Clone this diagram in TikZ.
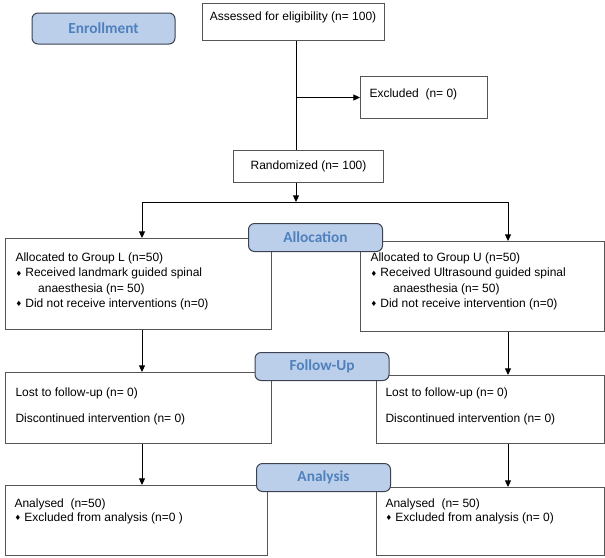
\documentclass[tikz,border=0pt]{standalone}
\usepackage{fontspec}
\setmainfont{Liberation Sans}
\newfontfamily\stagefont{Carlito}
\newfontfamily\symfont{DejaVu Sans}
\usetikzlibrary{arrows.meta}

\definecolor{stagefill}{RGB}{187,206,234}
\definecolor{stagetext}{RGB}{79,129,189}
\definecolor{stageline}{RGB}{60,66,80}
\definecolor{boxline}{RGB}{85,85,85}

\newcommand{\bulletdia}{{\symfont\fontsize{5.5}{5}\selectfont\raisebox{0.4pt}{♦}}\hspace{2.5pt}}

\tikzset{every picture/.style={line width=0.75pt}}
\tikzset{
  box/.style 2 args={draw=boxline, anchor=north west, inner sep=0pt, minimum width=#1*0.75pt, minimum height=#2*0.75pt},
  stage/.style={draw=stageline, fill=stagefill, rounded corners=4.5pt, text=stagetext, inner sep=0pt,
    font=\stagefont\bfseries\fontsize{11.5}{13}\selectfont, minimum width=134*0.75pt, minimum height=28*0.75pt},
  txt/.style={anchor=north west, inner sep=0pt, align=left, font=\fontsize{9}{11.5}\selectfont},
  arr/.style={-{Triangle[length=5pt,width=4.5pt]}},
}

\begin{document}
\begin{tikzpicture}[x=0.75pt,y=0.75pt,yscale=-1,xscale=1]
    \useasboundingbox (0,0) rectangle (605,557);

    %Shape: Rectangle
    \node[box={182}{37}] (assess) at (202,3) {};
    %Shape: Rectangle
    \node[box={127}{42}] (excl) at (360,76) {};
    %Shape: Rectangle
    \node[box={150}{32}] (rand) at (233,150) {};
    %Shape: Rectangle
    \node[box={266}{91}] (allocL) at (5,238) {};
    %Shape: Rectangle
    \node[box={244}{90}] (allocR) at (360,241) {};
    %Shape: Rectangle
    \node[box={266}{71}] (followL) at (5,372) {};
    %Shape: Rectangle
    \node[box={228}{68}] (followR) at (376,375) {};
    %Shape: Rectangle
    \node[box={262}{70}] (anaL) at (5,485) {};
    %Shape: Rectangle
    \node[box={228}{68}] (anaR) at (376,487) {};

    \coordinate (split) at (296,202);
    \coordinate (splitL) at (142,202);
    \coordinate (splitR) at (508,202);

    %Straight Lines
    \draw (assess.south -| split) -- (rand.north -| split);
    \draw[arr] (split |- excl.west) -- (excl.west);
    \draw[arr] (rand.south -| split) -- (split);
    \draw (splitL) -- (splitR);
    \draw[arr] (splitL) -- (splitL |- allocL.north);
    \draw[arr] (splitR) -- (splitR |- allocR.north);
    \draw[arr] (splitL |- allocL.south) -- (splitL |- followL.north);
    \draw[arr] (splitR |- allocR.south) -- (splitR |- followR.north);
    \draw[arr] (splitL |- followL.south) -- (splitL |- anaL.north);
    \draw[arr] (splitR |- followR.south) -- (splitR |- anaR.north);

    %Stage labels
    \node[stage, minimum width=143*0.75pt, minimum height=31*0.75pt] (enroll) at (103.5,28.5) {Enrollment};
    \node[stage] (allocst) at (315.5,237.5) {Allocation};
    \node[stage] (followst) at (322,366.5) {Follow-Up};
    \node[stage] (anast) at (323.5,477.5) {Analysis};

    % Text Node
    \node[txt, anchor=center] (assesstxt) at (293,17) {Assessed for eligibility (n= 100)};
    % Text Node
    \node[txt] (excltxt) at (369,88.5) {Excluded\ \ (n= 0)};
    % Text Node
    \node[txt, anchor=center] (randtxt) at (rand.center) {Randomized (n= 100)};
    % Text Node
    \node[txt] (allocLtxt) at (15,252.3) {Allocated to Group L (n=50)\\
      \bulletdia Received landmark guided spinal\\
      \hspace{17pt}anaesthesia (n= 50)\\
      \bulletdia Did not receive interventions (n=0)};
    % Text Node
    \node[txt] (allocRtxt) at (370,252.3) {Allocated to Group U (n=50)\\
      \bulletdia Received Ultrasound guided spinal\\
      \hspace{17pt}anaesthesia (n= 50)\\
      \bulletdia Did not receive intervention (n=0)};
    % Text Node
    \node[txt] (followLtxt) at (15,387.3) {Lost to follow-up (n= 0)\\[8pt]Discontinued intervention (n= 0)};
    % Text Node
    \node[txt] (followRtxt) at (385,387.3) {Lost to follow-up (n= 0)\\[8pt]Discontinued intervention (n= 0)};
    % Text Node
    \node[txt] (anaLtxt) at (14,498.3) {Analysed\ \ (n=50)\\[-1pt]\bulletdia Excluded from analysis (n=0 )};
    % Text Node
    \node[txt] (anaRtxt) at (385,498.3) {Analysed\ \ (n= 50)\\[-1pt]\bulletdia Excluded from analysis (n= 0)};

\end{tikzpicture}
\end{document}
